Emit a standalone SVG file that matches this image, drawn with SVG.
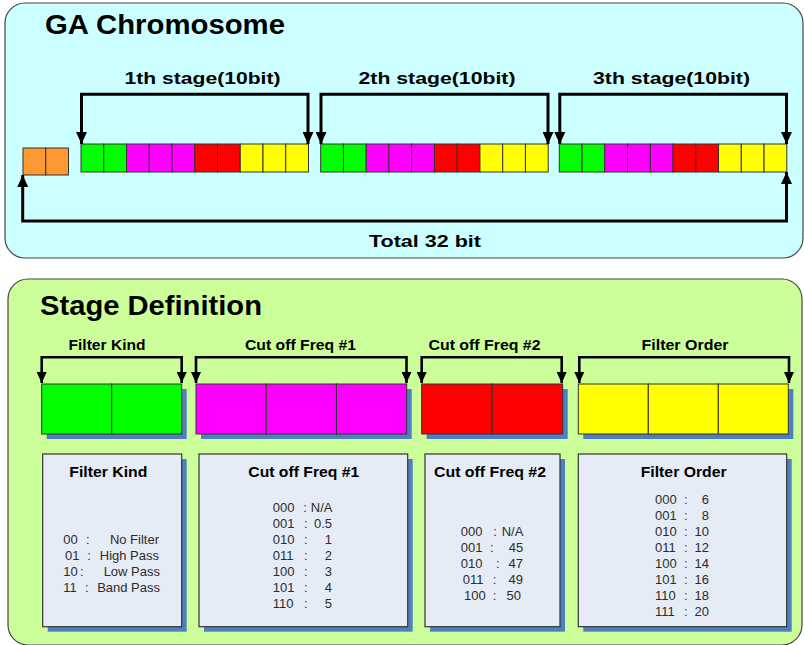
<svg xmlns="http://www.w3.org/2000/svg" width="804" height="645" viewBox="0 0 804 645">
  <defs>
    <style>
      .panel-a { fill: #CCFFFF; stroke: #444; stroke-width: 1.2; }
      .panel-b { fill: #CCFF99; stroke: #444; stroke-width: 1.2; }
      .cell { stroke: #333; stroke-width: 1; }
      .g { fill: #00FF00; }
      .m { fill: #FF00FF; }
      .r { fill: #FF0000; }
      .y { fill: #FFFF00; }
      .o { fill: #FF9933; }
      .shadow { fill: #4F7FC0; }
      .box { fill: #E6ECF6; stroke: #333; stroke-width: 1.2; }
      .bracket { fill: none; stroke: #000; stroke-width: 3; marker-start: url(#head); marker-end: url(#head); }
      .bracket2 { fill: none; stroke: #000; stroke-width: 2.6; marker-start: url(#head2); marker-end: url(#head2); }
      .title { font-family: "Liberation Sans", Arial, sans-serif; font-weight: bold; font-size: 27px; fill: #000; }
      .label { font-family: "Liberation Sans", Arial, sans-serif; font-weight: bold; font-size: 17px; fill: #000; text-anchor: middle; }
      .label2 { font-family: "Liberation Sans", Arial, sans-serif; font-weight: bold; font-size: 15px; fill: #000; text-anchor: middle; }
      .body { font-family: "Liberation Sans", Arial, sans-serif; font-size: 13px; fill: #2b2b2b; }
      .end { text-anchor: end; }
    </style>
    <marker id="head" viewBox="0 0 12 11" refX="12" refY="5.5" markerWidth="12" markerHeight="11" markerUnits="userSpaceOnUse" orient="auto-start-reverse">
      <path d="M0,0 L12,5.5 L0,11 z" fill="#000"/>
    </marker>
    <marker id="head2" viewBox="0 0 11 10" refX="11" refY="5" markerWidth="11" markerHeight="10" markerUnits="userSpaceOnUse" orient="auto-start-reverse">
      <path d="M0,0 L11,5 L0,10 z" fill="#000"/>
    </marker>
    <!-- one 10-bit stage: 2 green, 3 magenta, 2 red, 3 yellow -->
    <g id="stage">
      <rect class="cell g" x="0" y="0" width="22.75" height="28"/>
      <rect class="cell g" x="22.75" y="0" width="22.75" height="28"/>
      <rect class="cell m" x="45.5" y="0" width="22.75" height="28"/>
      <rect class="cell m" x="68.25" y="0" width="22.75" height="28"/>
      <rect class="cell m" x="91" y="0" width="22.75" height="28"/>
      <rect class="cell r" x="113.75" y="0" width="22.75" height="28"/>
      <rect class="cell r" x="136.5" y="0" width="22.75" height="28"/>
      <rect class="cell y" x="159.25" y="0" width="22.75" height="28"/>
      <rect class="cell y" x="182" y="0" width="22.75" height="28"/>
      <rect class="cell y" x="204.75" y="0" width="22.75" height="28"/>
    </g>
  </defs>

  <!-- Upper panel: GA chromosome -->
  <g id="chromosome-panel">
    <rect class="panel-a" x="5" y="3" width="798" height="255" rx="20" ry="20"/>
    <text class="title" x="45" y="34" textLength="240" lengthAdjust="spacingAndGlyphs">GA Chromosome</text>
  </g>

  <g id="header-bits">
    <rect class="cell o" x="23" y="148" width="22.75" height="27"/>
    <rect class="cell o" x="45.75" y="148" width="22.75" height="27"/>
  </g>
  <g id="stage1">
    <use href="#stage" x="81" y="144"/>
    <text class="label" x="202.5" y="84" textLength="156" lengthAdjust="spacingAndGlyphs">1th stage(10bit)</text>
  </g>
  <g id="stage2">
    <use href="#stage" x="320.7" y="144"/>
    <text class="label" x="437" y="84" textLength="157" lengthAdjust="spacingAndGlyphs">2th stage(10bit)</text>
  </g>
  <g id="stage3">
    <use href="#stage" x="559.3" y="144"/>
    <text class="label" x="671.5" y="84" textLength="157" lengthAdjust="spacingAndGlyphs">3th stage(10bit)</text>
  </g>
  <g id="total-label">
    <text class="label" x="425" y="247" textLength="112" lengthAdjust="spacingAndGlyphs">Total 32 bit</text>
  </g>

  <!-- Lower panel: stage definition -->
  <g id="definition-panel">
    <rect class="panel-b" x="8" y="279" width="794" height="366" rx="20" ry="20"/>
    <text class="title" x="40" y="315" textLength="222" lengthAdjust="spacingAndGlyphs">Stage Definition</text>
  </g>

  <g id="field-filter-kind">
    <rect class="shadow" x="46.7" y="389" width="140" height="50"/>
    <rect class="cell g" x="41.7" y="384" width="70" height="50"/>
    <rect class="cell g" x="111.7" y="384" width="70" height="50"/>
    <text class="label2" x="107" y="350" textLength="77" lengthAdjust="spacingAndGlyphs">Filter Kind</text>
  </g>
  <g id="field-cutoff1">
    <rect class="shadow" x="201" y="389" width="210.7" height="50"/>
    <rect class="cell m" x="196" y="384" width="70.23" height="50"/>
    <rect class="cell m" x="266.23" y="384" width="70.23" height="50"/>
    <rect class="cell m" x="336.46" y="384" width="70.23" height="50"/>
    <text class="label2" x="300.5" y="350" textLength="111" lengthAdjust="spacingAndGlyphs">Cut off Freq #1</text>
  </g>
  <g id="field-cutoff2">
    <rect class="shadow" x="426.7" y="389" width="141" height="50"/>
    <rect class="cell r" x="421.7" y="384" width="70.5" height="50"/>
    <rect class="cell r" x="492.2" y="384" width="70.5" height="50"/>
    <text class="label2" x="484.5" y="350" textLength="112" lengthAdjust="spacingAndGlyphs">Cut off Freq #2</text>
  </g>
  <g id="field-order">
    <rect class="shadow" x="583.3" y="389" width="210" height="50"/>
    <rect class="cell y" x="578.3" y="384" width="70" height="50"/>
    <rect class="cell y" x="648.3" y="384" width="70" height="50"/>
    <rect class="cell y" x="718.3" y="384" width="70" height="50"/>
    <text class="label2" x="685" y="350" textLength="87" lengthAdjust="spacingAndGlyphs">Filter Order</text>
  </g>

  <!-- Code tables -->
  <g id="table-filter-kind">
    <rect class="shadow" x="47.7" y="459" width="139" height="172.7"/>
    <rect class="box" x="42.7" y="454" width="139" height="172.7"/>
    <text class="label2" x="108.3" y="477" textLength="78" lengthAdjust="spacingAndGlyphs">Filter Kind</text>
    <text class="body" x="63.3" y="544">00</text><text class="body" x="86" y="544">:</text><text class="body end" x="159" y="544">No Filter</text>
    <text class="body" x="65" y="560">01</text><text class="body" x="87.3" y="560">:</text><text class="body end" x="159" y="560">High Pass</text>
    <text class="body" x="63.3" y="576">10</text><text class="body" x="80" y="576">:</text><text class="body end" x="160" y="576">Low Pass</text>
    <text class="body" x="63.3" y="592">11</text><text class="body" x="85" y="592">:</text><text class="body end" x="160" y="592">Band Pass</text>
  </g>
  <g id="table-cutoff1">
    <rect class="shadow" x="204" y="459" width="208.7" height="172.7"/>
    <rect class="box" x="199" y="454" width="208.7" height="172.7"/>
    <text class="label2" x="303.8" y="477" textLength="111" lengthAdjust="spacingAndGlyphs">Cut off Freq #1</text>
    <text class="body" x="272.7" y="512">000</text><text class="body" x="303.3" y="512">:</text><text class="body end" x="332.5" y="512">N/A</text>
    <text class="body" x="272.7" y="528">001</text><text class="body" x="304" y="528">:</text><text class="body end" x="332" y="528">0.5</text>
    <text class="body" x="272.7" y="544">010</text><text class="body" x="304" y="544">:</text><text class="body end" x="332" y="544">1</text>
    <text class="body" x="272.7" y="560">011</text><text class="body" x="304" y="560">:</text><text class="body end" x="332" y="560">2</text>
    <text class="body" x="272.7" y="576">100</text><text class="body" x="304" y="576">:</text><text class="body end" x="332" y="576">3</text>
    <text class="body" x="272.7" y="592">101</text><text class="body" x="304" y="592">:</text><text class="body end" x="332" y="592">4</text>
    <text class="body" x="272.7" y="608">110</text><text class="body" x="304" y="608">:</text><text class="body end" x="332" y="608">5</text>
  </g>
  <g id="table-cutoff2">
    <rect class="shadow" x="430" y="459" width="135" height="172.7"/>
    <rect class="box" x="425" y="454" width="135" height="172.7"/>
    <text class="label2" x="490" y="477" textLength="112" lengthAdjust="spacingAndGlyphs">Cut off Freq #2</text>
    <text class="body" x="460.7" y="536">000</text><text class="body" x="493.3" y="536">:</text><text class="body end" x="523.3" y="536">N/A</text>
    <text class="body" x="460.7" y="552">001</text><text class="body" x="490" y="552">:</text><text class="body end" x="523.3" y="552">45</text>
    <text class="body" x="460.7" y="568">010</text><text class="body" x="496" y="568">:</text><text class="body end" x="523" y="568">47</text>
    <text class="body" x="462.7" y="584">011</text><text class="body" x="492.7" y="584">:</text><text class="body end" x="523" y="584">49</text>
    <text class="body" x="464" y="600">100</text><text class="body" x="492.7" y="600">:</text><text class="body end" x="521" y="600">50</text>
  </g>
  <g id="table-order">
    <rect class="shadow" x="583.3" y="459" width="208.4" height="172.7"/>
    <rect class="box" x="578.3" y="454" width="208.4" height="172.7"/>
    <text class="label2" x="683.7" y="477" textLength="86" lengthAdjust="spacingAndGlyphs">Filter Order</text>
    <text class="body" x="655" y="504">000</text><text class="body" x="684" y="504">:</text><text class="body end" x="709" y="504">6</text>
    <text class="body" x="655" y="520">001</text><text class="body" x="684" y="520">:</text><text class="body end" x="709" y="520">8</text>
    <text class="body" x="655" y="536">010</text><text class="body" x="684" y="536">:</text><text class="body end" x="709" y="536">10</text>
    <text class="body" x="655" y="552">011</text><text class="body" x="684" y="552">:</text><text class="body end" x="709" y="552">12</text>
    <text class="body" x="655" y="568">100</text><text class="body" x="684" y="568">:</text><text class="body end" x="709" y="568">14</text>
    <text class="body" x="655" y="584">101</text><text class="body" x="684" y="584">:</text><text class="body end" x="709" y="584">16</text>
    <text class="body" x="655" y="600">110</text><text class="body" x="684" y="600">:</text><text class="body end" x="709" y="600">18</text>
    <text class="body" x="655" y="616">111</text><text class="body" x="684" y="616">:</text><text class="body end" x="709" y="616">20</text>
  </g>

  <!-- Span brackets -->
  <g id="connectors">
    <path class="bracket" d="M81.5,144 V94.3 H308 V144"/>
    <path class="bracket" d="M321,144 V94.3 H548 V144"/>
    <path class="bracket" d="M559.8,144 V94.3 H786.5 V144"/>
    <path class="bracket" d="M22.7,175 V221 H786.5 V172"/>
    <path class="bracket2" d="M41.7,383 V357.3 H181.7 V383"/>
    <path class="bracket2" d="M196,383 V357.3 H406.5 V383"/>
    <path class="bracket2" d="M421.7,383 V357.3 H561.7 V383"/>
    <path class="bracket2" d="M579.3,383 V357.3 H789 V383"/>
  </g>
</svg>
